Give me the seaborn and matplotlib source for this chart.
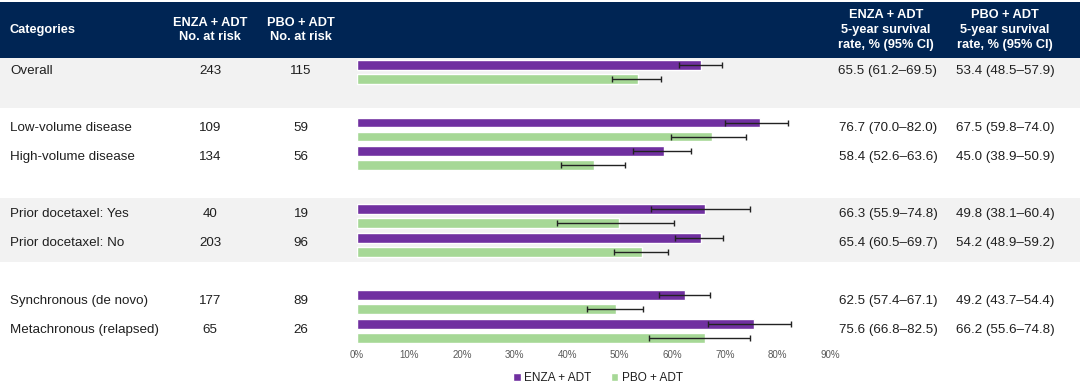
import numpy as np
import pandas as pd
import matplotlib
matplotlib.use("Agg")
import matplotlib.pyplot as plt
import matplotlib.transforms as mtransforms
import seaborn as sns

# Datos del gráfico
categorias = ["Overall", "Low-volume disease", "High-volume disease",
              "Prior docetaxel: Yes", "Prior docetaxel: No",
              "Synchronous (de novo)", "Metachronous (relapsed)"]
# orden con filas vacías entre grupos
orden = ["Overall", " ", "Low-volume disease", "High-volume disease", "  ",
         "Prior docetaxel: Yes", "Prior docetaxel: No", "   ",
         "Synchronous (de novo)", "Metachronous (relapsed)"]
brazos = ["ENZA + ADT", "PBO + ADT"]

riesgo_enza = [243, 109, 134, 40, 203, 177, 65]
riesgo_pbo = [115, 59, 56, 19, 96, 89, 26]

tasa_enza = [65.5, 76.7, 58.4, 66.3, 65.4, 62.5, 75.6]
ic_bajo_enza = [61.2, 70.0, 52.6, 55.9, 60.5, 57.4, 66.8]
ic_alto_enza = [69.5, 82.0, 63.6, 74.8, 69.7, 67.1, 82.5]

tasa_pbo = [53.4, 67.5, 45.0, 49.8, 54.2, 49.2, 66.2]
ic_bajo_pbo = [48.5, 59.8, 38.9, 38.1, 48.9, 43.7, 55.6]
ic_alto_pbo = [57.9, 74.0, 50.9, 60.4, 59.2, 54.4, 74.8]

ticks_x = [0, 10, 20, 30, 40, 50, 60, 70, 80, 90]

COLORES = {"ENZA + ADT": "#7030A0", "PBO + ADT": "#A6D896"}
NAVY = "#002554"
GRIS = "#F2F2F2"
TEXTO = "#1F1F1F"

df = pd.DataFrame({
    "categoria": categorias * 2,
    "brazo": [brazos[0]] * len(categorias) + [brazos[1]] * len(categorias),
    "tasa": tasa_enza + tasa_pbo,
    "bajo": ic_bajo_enza + ic_bajo_pbo,
    "alto": ic_alto_enza + ic_alto_pbo,
})

sns.set_theme(style="white")
plt.rcParams["font.family"] = ["Liberation Sans", "DejaVu Sans"]

W, H = 1080, 386
fig = plt.figure(figsize=(W / 100, H / 100), dpi=100)

# Fondo en coordenadas de píxel
bg = fig.add_axes([0, 0, 1, 1])
bg.set_xlim(0, W)
bg.set_ylim(H, 0)
bg.axis("off")
bg.add_patch(plt.Rectangle((0, 2), W, 56, color=NAVY, lw=0))
bg.add_patch(plt.Rectangle((0, 58), W, 50, color=GRIS, lw=0))
bg.add_patch(plt.Rectangle((0, 198), W, 64, color=GRIS, lw=0))

# Encabezados
hdr = dict(color="white", fontsize=9.2, fontweight="bold", va="center",
           linespacing=1.3)
bg.text(10, 30, "Categories", ha="left", **hdr)
bg.text(210, 30, "ENZA + ADT\nNo. at risk", ha="center", **hdr)
bg.text(301, 30, "PBO + ADT\nNo. at risk", ha="center", **hdr)
bg.text(886, 30, "ENZA + ADT\n5-year survival\nrate, % (95% CI)", ha="center", **hdr)
bg.text(1005, 30, "PBO + ADT\n5-year survival\nrate, % (95% CI)", ha="center", **hdr)

# Eje de barras: 0% en x=357 px, 90% en x=830 px; fila 0 centrada en 72 px
fila = (331 - 72) / 9
y_top = 72 - 0.5 * fila
y_bot = 331 + 0.5 * fila
ax = fig.add_axes([357 / W, 1 - y_bot / H, (830 - 357) / W, (y_bot - y_top) / H])
ax.patch.set_alpha(0)

sns.barplot(data=df, x="tasa", y="categoria", hue="brazo", order=orden,
            hue_order=brazos, palette=COLORES, orient="h", errorbar=None,
            width=0.97, gap=0.3, saturation=1, ax=ax, legend=True)

# Barras de error (IC 95%)
for cont, brazo in zip(ax.containers, brazos):
    sub = df[df["brazo"] == brazo].set_index("categoria")
    for p in cont.patches:
        yc = p.get_y() + p.get_height() / 2
        cat = orden[int(round(yc))]
        r = sub.loc[cat]
        ax.errorbar(r["tasa"], yc, xerr=[[r["tasa"] - r["bajo"]], [r["alto"] - r["tasa"]]],
                    fmt="none", ecolor="#222222", elinewidth=1, capsize=2, capthick=1)

ax.set_xlim(0, 90)
ax.set_ylim(9.5, -0.5)
ax.set_xticks(ticks_x)
ax.set_xticklabels([f"{t}%" for t in ticks_x])
ax.tick_params(axis="x", length=0, pad=3, labelsize=7, labelcolor="#595959")
ax.set_yticks([])
ax.set_xlabel("")
ax.set_ylabel("")
for s in ax.spines.values():
    s.set_visible(False)

handles, labels = ax.get_legend_handles_labels()
ax.get_legend().remove()
fig.legend(handles, labels, loc="center", bbox_to_anchor=(598 / W, 1 - 378 / H),
           ncol=2, frameon=False, fontsize=8.5, handlelength=0.65, handleheight=0.65,
           handletextpad=0.3, columnspacing=1.6, labelcolor=TEXTO)

# Texto de filas: alineado con las filas del eje de barras
tr = mtransforms.blended_transform_factory(bg.transData, ax.transData)
for i, cat in enumerate(categorias):
    y = orden.index(cat) - 0.05
    kw = dict(transform=tr, va="center", fontsize=9.6, color=TEXTO)
    ax.text(10, y, cat, ha="left", **kw)
    ax.text(210, y, str(riesgo_enza[i]), ha="center", **kw)
    ax.text(301, y, str(riesgo_pbo[i]), ha="center", **kw)
    ax.text(888, y, f"{tasa_enza[i]:.1f} ({ic_bajo_enza[i]:.1f}\u2013{ic_alto_enza[i]:.1f})",
            ha="center", **kw)
    ax.text(1005, y, f"{tasa_pbo[i]:.1f} ({ic_bajo_pbo[i]:.1f}\u2013{ic_alto_pbo[i]:.1f})",
            ha="center", **kw)

fig.savefig("out.png", dpi=100)
plt.close(fig)
